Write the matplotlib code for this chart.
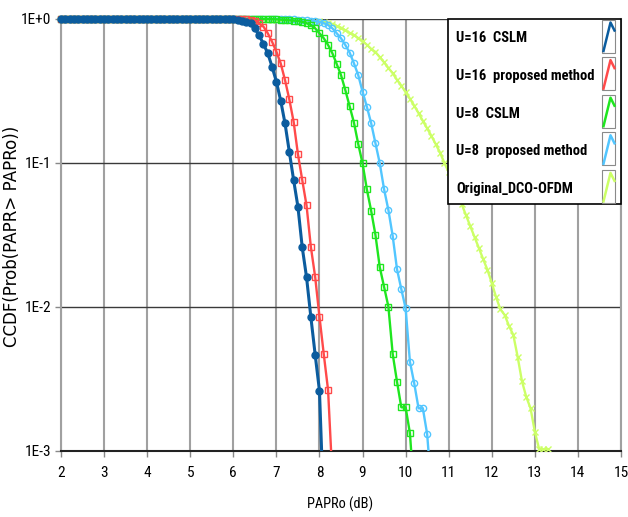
import numpy as np
import matplotlib
matplotlib.use('Agg')
import matplotlib.pyplot as plt
from matplotlib import font_manager as fm
from matplotlib.patches import Rectangle
from matplotlib.lines import Line2D

# ---------------- data ----------------
labels = ["U=16  CSLM", "U=16  proposed method", "U=8  CSLM",
          "U=8  proposed method", "Original_DCO-OFDM"]

x_start = 2.0
x_step = 0.1

y_u16_cslm = [1.0, 1.0, 1.0, 1.0, 1.0, 1.0, 1.0, 1.0, 1.0, 1.0,
              1.0, 1.0, 1.0, 1.0, 1.0, 1.0, 1.0, 1.0, 1.0, 1.0,
              1.0, 1.0, 1.0, 1.0, 1.0, 1.0, 1.0, 1.0, 1.0, 1.0,
              1.0, 1.0, 1.0, 1.0, 1.0, 1.0, 1.0, 1.0, 1.0, 1.0,
              0.995,
              0.99, 0.976, 0.96, 0.933, 0.86, 0.77, 0.67, 0.578, 0.466, 0.367,
              0.271, 0.1887, 0.1198, 0.0762, 0.0497, 0.026, 0.0161, 0.00853, 0.00467, 0.00262,
              0.00038]

y_u16_prop = [1.0, 1.0, 1.0, 1.0, 1.0, 1.0, 1.0, 1.0, 1.0, 1.0,
              1.0, 1.0, 1.0, 1.0, 1.0, 1.0, 1.0, 1.0, 1.0, 1.0,
              1.0, 1.0, 1.0, 1.0, 1.0, 1.0, 1.0, 1.0, 1.0, 1.0,
              1.0, 1.0, 1.0, 1.0, 1.0, 1.0, 1.0, 1.0, 1.0, 1.0,
              1.0, 1.0, 1.0,
              0.995, 0.99, 0.975, 0.933, 0.885, 0.796, 0.695, 0.593, 0.492, 0.377,
              0.277, 0.1935, 0.1154, 0.0762, 0.0507, 0.0262, 0.0162, 0.00857, 0.0047, 0.00265,
              0.00066]

y_u8_cslm = [1.0, 1.0, 1.0, 1.0, 1.0, 1.0, 1.0, 1.0, 1.0, 1.0,
             1.0, 1.0, 1.0, 1.0, 1.0, 1.0, 1.0, 1.0, 1.0, 1.0,
             1.0, 1.0, 1.0, 1.0, 1.0, 1.0, 1.0, 1.0, 1.0, 1.0,
             1.0, 1.0, 1.0, 1.0, 1.0, 1.0, 1.0, 1.0, 1.0, 1.0,
             1.0, 1.0, 1.0, 1.0, 1.0, 1.0, 1.0, 1.0, 1.0,
             0.998, 0.995, 0.99, 0.985, 0.98, 0.975, 0.968, 0.955, 0.935, 0.908,
             0.862, 0.796, 0.735, 0.66, 0.578, 0.487, 0.408, 0.321, 0.248, 0.191,
             0.1355, 0.0995, 0.0657, 0.0466, 0.0316, 0.0189, 0.0138, 0.01007, 0.00472, 0.00303,
             0.00201, 0.00201, 0.00133, 0.0005]

y_u8_prop = [1.0, 1.0, 1.0, 1.0, 1.0, 1.0, 1.0, 1.0, 1.0, 1.0,
             1.0, 1.0, 1.0, 1.0, 1.0, 1.0, 1.0, 1.0, 1.0, 1.0,
             1.0, 1.0, 1.0, 1.0, 1.0, 1.0, 1.0, 1.0, 1.0, 1.0,
             1.0, 1.0, 1.0, 1.0, 1.0, 1.0, 1.0, 1.0, 1.0, 1.0,
             1.0, 1.0, 1.0, 1.0, 1.0, 1.0, 1.0, 1.0, 1.0, 1.0,
             1.0, 1.0, 1.0,
             0.998, 0.995, 0.99, 0.985, 0.98, 0.975, 0.968, 0.955, 0.935, 0.908,
             0.862, 0.796, 0.735, 0.66, 0.585, 0.4925, 0.408, 0.313, 0.246, 0.189,
             0.137, 0.0995, 0.0657, 0.0472, 0.0311, 0.0183, 0.0133, 0.0098, 0.00417, 0.00295,
             0.00198, 0.00198, 0.00131, 0.00054]

y_original = [1.0, 1.0, 1.0, 1.0, 1.0, 1.0, 1.0, 1.0, 1.0, 1.0,
              1.0, 1.0, 1.0, 1.0, 1.0, 1.0, 1.0, 1.0, 1.0, 1.0,
              1.0, 1.0, 1.0, 1.0, 1.0, 1.0, 1.0, 1.0, 1.0, 1.0,
              1.0, 1.0, 1.0, 1.0, 1.0, 1.0, 1.0, 1.0, 1.0, 1.0,
              1.0,
              0.999, 0.998, 0.997, 0.996, 0.995, 0.994, 0.993, 0.992, 0.991, 0.99,
              0.988, 0.986, 0.984, 0.982, 0.98, 0.977, 0.974, 0.971, 0.968, 0.965,
              0.955, 0.945, 0.925, 0.895, 0.87, 0.835, 0.80, 0.774, 0.737, 0.70,
              0.663, 0.62, 0.59, 0.543, 0.50, 0.457, 0.42, 0.378, 0.345, 0.31,
              0.28, 0.25, 0.222, 0.196, 0.174, 0.154, 0.135, 0.118, 0.10, 0.0866,
              0.0738, 0.0619, 0.0519, 0.0435, 0.0365, 0.0306, 0.0257, 0.0215, 0.0181, 0.0147,
              0.0117, 0.00964, 0.0088, 0.00738, 0.0064, 0.00452, 0.00306, 0.00238, 0.00198, 0.00136,
              0.00103, 0.00103, 0.00103]

x_ticks = list(range(2, 16))
y_ticks = [1e-3, 1e-2, 1e-1, 1e0]
y_ticklabels = ["1E-3", "1E-2", "1E-1", "1E+0"]

# ---------------- styles ----------------
series = [
    (y_u16_cslm, dict(color='#0b5c9e', lw=2.2, marker='o', ms=5.0, mfc='#0b5c9e', mec='#0b5c9e', mew=1.0, zorder=8)),
    (y_u16_prop, dict(color='#ff4a4a', lw=1.7, marker='s', ms=4.0, mfc='none', mec='#ff4a4a', mew=1.0, zorder=7)),
    (y_u8_cslm, dict(color='#1fe61f', lw=1.7, marker='s', ms=4.0, mfc='none', mec='#1fe61f', mew=1.0, zorder=6)),
    (y_u8_prop, dict(color='#52c6ff', lw=1.7, marker='o', ms=4.5, mfc='none', mec='#52c6ff', mew=1.0, zorder=5)),
    (y_original, dict(color='#ccff66', lw=1.7, marker='x', ms=4.0, mfc='none', mec='#ccff66', mew=1.0, zorder=4)),
]

available = set(f.name for f in fm.fontManager.ttflist)
narrow_pref = ['Roboto Condensed', 'Archivo Narrow', 'Asap Condensed', 'Liberation Sans Narrow']
NARROW_NAME = next((n for n in narrow_pref if n in available), 'DejaVu Sans')
NARROW = [NARROW_NAME, 'DejaVu Sans']

W, H = 628, 517
fig = plt.figure(figsize=(W / 100, H / 100), dpi=100)
L, R, T, B = 61, 621, 19, 451
ax = fig.add_axes([L / W, 1 - B / H, (R - L) / W, (B - T) / H])

ax.set_yscale('log')
ax.set_xlim(2, 15)
ax.set_ylim(1e-3, 1)

clip_rect = Rectangle((-0.01, 0.0), 1.02, 1.03, transform=ax.transAxes, facecolor='none', edgecolor='none')
for y, st in series:
    y = np.asarray(y)
    x = np.round(x_start + x_step * np.arange(len(y)), 1)
    ln, = ax.plot(x, y, **st)
    ln.set_clip_path(clip_rect)

ax.set_xticks(x_ticks)
ax.set_xticklabels([str(v) for v in x_ticks], fontfamily=NARROW, fontsize=12)
ax.set_yticks(y_ticks)
ax.set_yticklabels(y_ticklabels, fontfamily=NARROW, fontsize=12)
ax.yaxis.set_minor_locator(matplotlib.ticker.NullLocator())
ax.grid(axis='x', color='#a0a0a0', lw=1.5, zorder=1)
ax.grid(axis='y', color='#3a3a3a', lw=1.0, zorder=1)
ax.set_axisbelow(True)
ax.tick_params(axis='both', direction='out', length=4, width=1, color='#888888')
ax.tick_params(axis='x', pad=7)
ax.tick_params(axis='y', pad=3)

ax.spines['top'].set_visible(False)
ax.spines['left'].set_color('#a0a0a0')
ax.spines['left'].set_linewidth(1.5)
ax.spines['right'].set_color('#a0a0a0')
ax.spines['right'].set_linewidth(1.5)
ax.spines['bottom'].set_color('#222222')
ax.spines['bottom'].set_linewidth(1.5)

xl = ax.set_xlabel("PAPRo (dB)", fontfamily=NARROW, fontsize=12)
ax.xaxis.set_label_coords((340 - L) / (R - L), (B - 497) / (B - T))
yl = ax.set_ylabel("CCDF(Prob(PAPR> PAPRo))", fontfamily=['DejaVu Sans'], fontsize=12)
ax.yaxis.set_label_coords((21 - L) / (R - L), (B - 236) / (B - T))

# ---------------- legend (drawn manually in figure pixels) ----------------
def fx(px):
    return px / W

def fy(py):
    return 1 - py / H

leg_l, leg_r, leg_t, leg_b = 448, 621, 19, 204
fig.patches.append(Rectangle((fx(leg_l), fy(leg_b)), fx(leg_r) - fx(leg_l), fy(leg_t) - fy(leg_b),
                             transform=fig.transFigure, facecolor='white', edgecolor='black',
                             lw=1.2, zorder=5))
row_h = 37.6
leg_texts = []
for i, (lab, (y, st)) in enumerate(zip(labels, series)):
    cy = 38.5 + i * row_h
    t = fig.text(fx(456), fy(cy), lab, fontfamily=NARROW, fontweight='bold', fontsize=12,
                 va='center', ha='left', zorder=6)
    leg_texts.append(t)
    bt = 19.5 + i * row_h
    bb = bt + 33
    bl, br = 602, 615
    fig.patches.append(Rectangle((fx(bl), fy(bb)), fx(br) - fx(bl), fy(bt) - fy(bb),
                                 transform=fig.transFigure, facecolor='white',
                                 edgecolor='#8a8a8a', lw=0.8, zorder=6))
    xs = [bl + 1.5, bl + 8.5, br - 0.5]
    ys = [bb - 1.5, bt + 3, bt + 11]
    fig.lines.append(Line2D([fx(v) for v in xs], [fy(v) for v in ys], transform=fig.transFigure,
                            color=st['color'], lw=1.8, zorder=7))

# ---------------- fit text sizes to the reference widths ----------------
fig.canvas.draw()
r = fig.canvas.get_renderer()

bb_long = leg_texts[1].get_window_extent(r)
scale = 139.0 / bb_long.width
for t in leg_texts:
    t.set_fontsize(t.get_fontsize() * scale)

bx = xl.get_window_extent(r)
if bx.width > 0:
    xl.set_fontsize(xl.get_fontsize() * 66.0 / bx.width)

ytl = ax.get_yticklabels()
w0 = ytl[-1].get_window_extent(r).width
ts = 12 * 30.0 / w0 if w0 > 0 else 12
ax.tick_params(axis='both', labelsize=ts)

fig.savefig('out.png', dpi=100)
